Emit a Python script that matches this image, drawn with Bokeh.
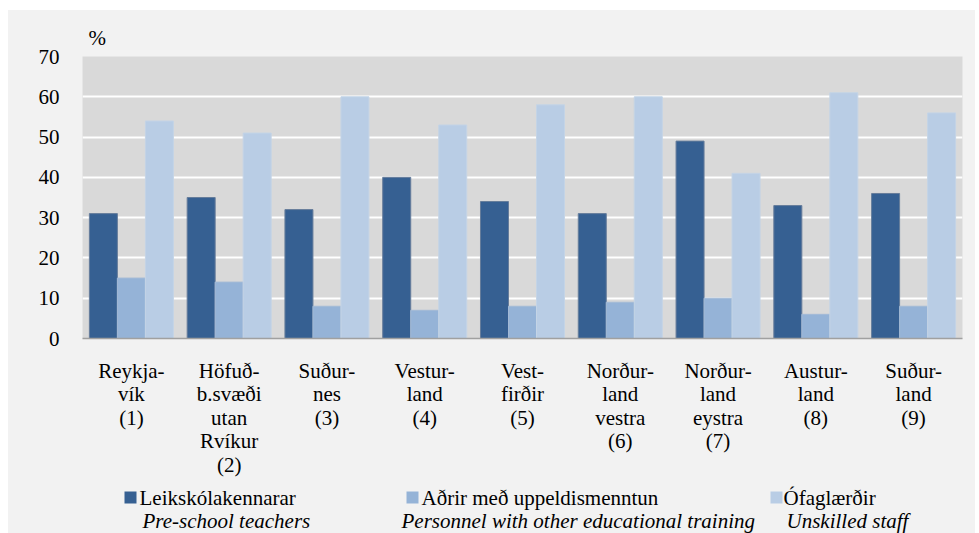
from bokeh.plotting import figure
from bokeh.layouts import column
from bokeh.models import ColumnDataSource, FixedTicker, Range1d
from bokeh.core.properties import value
from bokeh.transform import dodge
from bokeh.embed import file_html
from bokeh.resources import INLINE

regions = ["Reykja-\nvík\n(1)", "Höfuð-\nb.svæði\nutan\nRvíkur\n(2)", "Suður-\nnes\n(3)",
           "Vestur-\nland\n(4)", "Vest-\nfirðir\n(5)", "Norður-\nland\nvestra\n(6)",
           "Norður-\nland\neystra\n(7)", "Austur-\nland\n(8)", "Suður-\nland\n(9)"]
preschool_teachers = [31, 35, 32, 40, 34, 31, 49, 33, 36]
other_educational = [15, 14, 8, 7, 8, 9, 10, 6, 8]
unskilled = [54, 51, 60, 53, 58, 60, 41, 61, 56]
y_ticks = [0, 10, 20, 30, 40, 50, 60, 70]
series_is = ["Leikskólakennarar", "Aðrir með uppeldismenntun", "Ófaglærðir"]
series_en = ["Pre-school teachers", "Personnel with other educational training", "Unskilled staff"]
colors = ["#366092", "#95b3d7", "#b9cde5"]
edge_colors = ["#667d9b", "#a3bad6", "#c4d4e6"]

FONT = "Liberation Serif"
FS = "21px"
BG = "#f2f2f2"

src = ColumnDataSource(dict(region=regions, a=preschool_teachers, b=other_educational, c=unskilled))

p = figure(x_range=regions, y_range=Range1d(0, 70), frame_width=880, frame_height=282,
           min_border_left=74, min_border_right=13, min_border_top=46, min_border_bottom=147,
           output_backend="svg", toolbar_location=None)
p.border_fill_color = BG
p.background_fill_color = "#d9d9d9"
p.outline_line_color = None

bw = 0.2864
for key, off, col, ec in zip(["a", "b", "c"], [-bw, 0, bw], colors, edge_colors):
    p.vbar(x=dodge("region", off, range=p.x_range), top=key, width=bw, source=src,
           fill_color=col, line_color=ec, line_width=1)

p.yaxis.ticker = FixedTicker(ticks=y_ticks)
p.ygrid.ticker = FixedTicker(ticks=y_ticks)
p.ygrid.grid_line_color = "white"
p.ygrid.grid_line_width = 2
p.xgrid.grid_line_color = None

for ax in (p.xaxis[0], p.yaxis[0]):
    ax.major_label_text_font = FONT
    ax.major_label_text_font_size = FS
    ax.major_label_text_color = "black"
    ax.major_tick_line_color = None
    ax.minor_tick_line_color = None
    ax.major_tick_out = 0
    ax.major_tick_in = 0

p.yaxis.axis_line_color = None
p.yaxis.major_label_standoff = 23
p.xaxis.axis_line_color = "#a0a0a0"
p.xaxis.axis_line_width = 1.5
p.xaxis.major_label_standoff = 20
p.xaxis.major_label_text_line_height = 0.98
p.xaxis.major_label_orientation = "horizontal"

p.title.text = "%"
p.title.text_font = FONT
p.title.text_font_size = FS
p.title.text_font_style = "normal"
p.title.text_color = "black"
p.title.align = "left"
p.title.offset = 6
p.title.standoff = 14

# legend strip below the chart; its frame is aligned with the chart frame (page-pixel coords)
FL, FR, TOP, BOTTOM = 82, 962, 485, 533
leg = figure(x_range=Range1d(FL, FR), y_range=Range1d(BOTTOM, TOP),
             frame_width=FR - FL, frame_height=BOTTOM - TOP,
             min_border_left=74, min_border_right=13, min_border_top=0, min_border_bottom=0,
             x_axis_location=None, y_axis_location=None,
             output_backend="svg", toolbar_location=None)
leg.border_fill_color = BG
leg.background_fill_color = BG
leg.outline_line_color = None
leg.grid.visible = False

sq_x = [124, 406, 770]
txt_x = [139, 421, 783]
en_x = [142, 401, 786]
leg.quad(left=sq_x, right=[v + 12 for v in sq_x], top=[491] * 3, bottom=[503] * 3,
         fill_color=colors, line_color=None)
leg.text(x=txt_x, y=[497] * 3, text=series_is, text_font=value(FONT), text_font_size=value(FS),
         text_baseline="middle", text_color="black")
leg.text(x=en_x, y=[520.5] * 3, text=series_en, text_font=value(FONT), text_font_size=value(FS),
         text_font_style="italic", text_baseline="middle", text_color="black")

layout = column(p, leg, spacing=0, margin=(10, 0, 0, 8), styles={"background-color": BG})
open("out.html", "w").write(file_html(layout, INLINE))
